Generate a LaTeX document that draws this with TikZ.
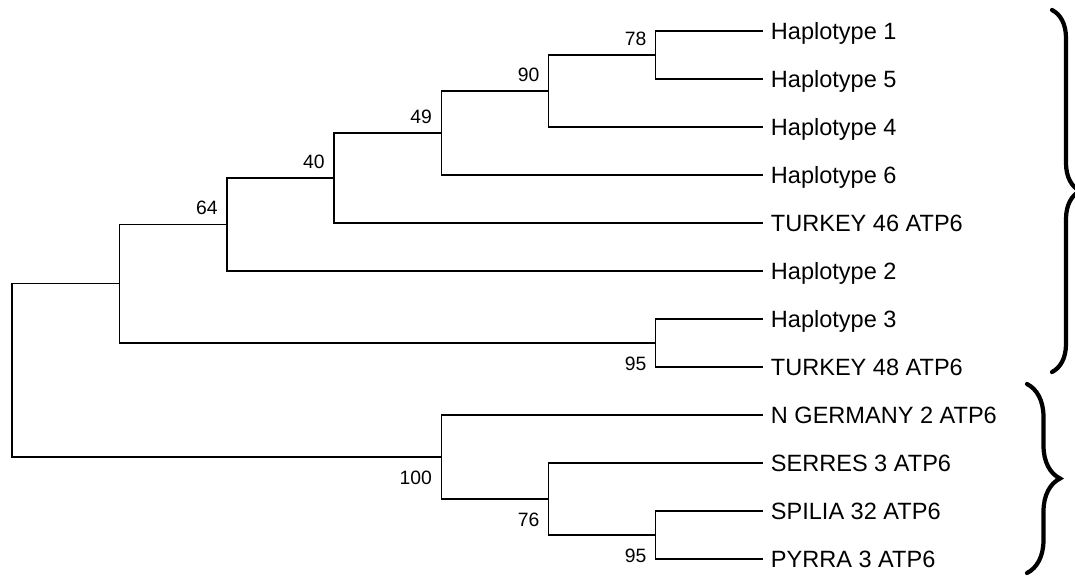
\documentclass[tikz,border=0pt]{standalone}
\usepackage{fontspec}
\setmainfont{Liberation Sans}
\usetikzlibrary{calc,positioning,decorations.pathreplacing}
\definecolor{Branch}{RGB}{0, 0, 0}

\tikzset{
    leaf/.style={anchor=west, inner xsep=4.3pt, inner ysep=0pt, text height=9.6pt, text depth=0pt, font=\fontsize{13.4}{16}\selectfont},
    boot/.style={inner sep=0pt, text height=7.8pt, text depth=0pt, font=\fontsize{11}{13}\selectfont},
    branch/.style={line width=0.7pt, Branch},
    clade/.style={decorate, decoration={brace, amplitude=#1}, line width=2.4pt, line cap=round}
}

\begin{document}
\begin{tikzpicture}[x=0.02cm, y=-0.02cm]
    %%Background
    \useasboundingbox (0,0) rectangle (1075,576);

    %% Leaves
    \node[leaf] (h1) at (763,31) {Haplotype 1};
    \node[leaf] (h5) at (763,79) {Haplotype 5};
    \node[leaf] (h4) at (763,127) {Haplotype 4};
    \node[leaf] (h6) at (763,175) {Haplotype 6};
    \node[leaf] (t46) at (763,223) {TURKEY 46 ATP6};
    \node[leaf] (h2) at (763,271) {Haplotype 2};
    \node[leaf] (h3) at (763,319) {Haplotype 3};
    \node[leaf] (t48) at (763,367) {TURKEY 48 ATP6};
    \node[leaf] (ger) at (763,415) {N GERMANY 2 ATP6};
    \node[leaf] (ser) at (763,463) {SERRES 3 ATP6};
    \node[leaf] (spi) at (763,511) {SPILIA 32 ATP6};
    \node[leaf] (pyr) at (763,559) {PYRRA 3 ATP6};

    %% Internal nodes
    \coordinate (root) at (12,370);
    \coordinate (upper) at (119.5,283.5);
    \coordinate (n64) at (227,224.5);
    \coordinate (n40) at (334,178);
    \coordinate (n49) at (441.3,133);
    \coordinate (n90) at (548.7,91);
    \coordinate (n78) at (655.7,55);
    \coordinate (n95a) at (655.7,343);
    \coordinate (n100) at (441.3,457);
    \coordinate (n76) at (548.7,499);
    \coordinate (n95b) at (655.7,535);

    %% Branches
    \draw[branch]
    (root) |- (upper)
    (root) |- (n100)
    (upper) |- (n64)
    (upper) |- (n95a)
    (n64) |- (n40)
    (n64) |- (h2)
    (n40) |- (n49)
    (n40) |- (t46)
    (n49) |- (n90)
    (n49) |- (h6)
    (n90) |- (n78)
    (n90) |- (h4)
    (n78) |- (h1)
    (n78) |- (h5)
    (n95a) |- (h3)
    (n95a) |- (t48)
    (n100) |- (ger)
    (n100) |- (n76)
    (n76) |- (ser)
    (n76) |- (n95b)
    (n95b) |- (spi)
    (n95b) |- (pyr)
    ;

    %% Bootstrap values
    \node[boot, above left=0.19cm and 0.18cm of n78] (b78) {78};
    \node[boot, above left=0.19cm and 0.18cm of n90] (b90) {90};
    \node[boot, above left=0.19cm and 0.18cm of n49] (b49) {49};
    \node[boot, above left=0.19cm and 0.18cm of n40] (b40) {40};
    \node[boot, above left=0.19cm and 0.18cm of n64] (b64) {64};
    \node[boot, below left=0.27cm and 0.18cm of n95a] (b95a) {95};
    \node[boot, below left=0.27cm and 0.18cm of n100] (b100) {100};
    \node[boot, below left=0.27cm and 0.18cm of n76] (b76) {76};
    \node[boot, below left=0.27cm and 0.18cm of n95b] (b95b) {95};

    %% Groups
    \draw[clade=0.56cm] (1052,10) to (1052,372);
    \draw[clade=0.66cm] (1027,384) to (1027,573);

\end{tikzpicture}
\end{document}
